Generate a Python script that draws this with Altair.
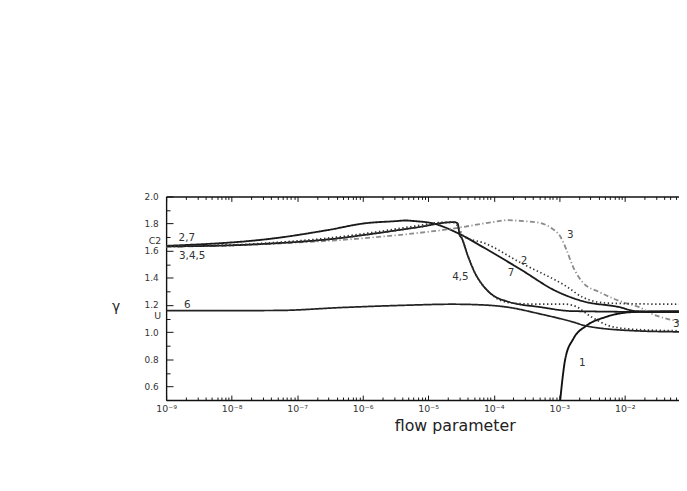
import altair as alt
import pandas as pd

# ---- curve data (flow parameter, gamma) ----
c1_x = [1.035e-3, 1.24e-3, 1.64e-3, 2.57e-3, 5.15e-3, 1.32e-2, 6.76e-2, 1e-1]
c1_y = [0.50, 0.806, 0.951, 1.046, 1.112, 1.148, 1.155, 1.155]

c2_x = [1e-9, 4.9e-8, 2.9e-7, 1.12e-6, 3.16e-6, 4.47e-6, 6.3e-6, 1.15e-5, 2.8e-5,
        7.2e-5, 2.6e-4, 9.1e-4, 2.3e-3, 8.4e-3, 1.46e-2, 6.76e-2, 1e-1]
c2_y = [1.636, 1.694, 1.752, 1.803, 1.818, 1.823, 1.818, 1.803, 1.731,
        1.621, 1.461, 1.301, 1.228, 1.184, 1.155, 1.148, 1.147]

c3_x = [1e-9, 2.45e-8, 1.58e-6, 2.51e-5, 1.02e-4, 1.58e-4, 2.88e-4, 5.25e-4, 7.59e-4,
        1.05e-3, 1.29e-3, 1.62e-3, 2.29e-3, 4.17e-3, 9.33e-3, 1.66e-2, 2.63e-2, 6.76e-2, 1e-1]
c3_y = [1.629, 1.647, 1.700, 1.765, 1.813, 1.825, 1.818, 1.803, 1.767,
        1.701, 1.607, 1.483, 1.367, 1.294, 1.221, 1.184, 1.134, 1.075, 1.05]

c4_x = [1e-9, 1e-8, 5.0e-8, 3.16e-7, 1.58e-6, 6.3e-6, 2.51e-5, 2.82e-5, 3.02e-5, 3.24e-5,
        3.98e-5, 5.13e-5, 6.47e-5, 8.26e-5, 1.02e-4, 1.58e-4, 5.25e-4, 1.62e-3, 6.76e-2, 1e-1]
c4_y = [1.632, 1.640, 1.656, 1.685, 1.728, 1.770, 1.811, 1.800, 1.716, 1.694,
        1.570, 1.440, 1.360, 1.300, 1.265, 1.228, 1.184, 1.155, 1.148, 1.148]

c5_x = [1e-9, 1e-8, 5.0e-8, 3.16e-7, 1.58e-6, 6.3e-6, 2.51e-5, 2.82e-5, 3.02e-5, 3.24e-5,
        3.98e-5, 5.13e-5, 6.47e-5, 8.26e-5, 1.02e-4, 1.26e-4, 2.04e-4, 5.0e-4, 1.26e-3, 1.78e-3,
        2.95e-3, 6.6e-3, 1.86e-2, 6.76e-2, 1e-1]
c5_y = [1.632, 1.640, 1.656, 1.685, 1.728, 1.770, 1.811, 1.800, 1.716, 1.694,
        1.570, 1.440, 1.360, 1.300, 1.262, 1.235, 1.214, 1.206, 1.206, 1.190,
        1.119, 1.039, 1.017, 1.010, 1.008]

c6_x = [1e-9, 5.0e-8, 5.0e-7, 5.0e-6, 2.29e-5, 7.94e-5, 1.58e-4, 5.25e-4, 1.62e-3,
        2.57e-3, 1.45e-2, 6.76e-2, 1e-1]
c6_y = [1.158, 1.160, 1.182, 1.199, 1.206, 1.199, 1.185, 1.133, 1.075,
        1.046, 1.010, 1.002, 1.000]

c7_x = [1e-9, 1e-8, 5.0e-8, 3.16e-7, 1.58e-6, 6.3e-6, 1.78e-5, 2.51e-5, 3.55e-5, 7.24e-5,
        2.57e-4, 1.29e-3, 2.29e-3, 5.5e-3, 6.76e-2, 1e-1]
c7_y = [1.634, 1.643, 1.662, 1.695, 1.738, 1.782, 1.810, 1.806, 1.703, 1.656,
        1.512, 1.337, 1.257, 1.214, 1.206, 1.206]

curve_names = ["1", "2", "3", "4", "5", "6", "7"]
curve_colors = ["#111111", "#1a1a1a", "#8c8c8c", "#1a1a1a", "#333333", "#222222", "#333333"]
curve_dashes = [[1, 0], [1, 0], [5, 2.5, 1.2, 2.5], [1, 0], [1.4, 2.6], [1, 0], [1.4, 2.6]]
curve_widths = [1.9, 1.7, 0.9, 1.7, 1.4, 1.0, 1.4]

# curve annotations
lbl_text = ["2,7", "3,4,5", "6", "4,5", "2", "7", "3", "1", "3"]
lbl_x = [2.07e-9, 2.5e-9, 2.1e-9, 3.1e-5, 2.9e-4, 1.84e-4, 1.48e-3, 2.24e-3, 6.1e-2]
lbl_y = [1.690, 1.563, 1.203, 1.403, 1.527, 1.439, 1.716, 0.769, 1.061]

# special levels on the gamma axis
lvl_text = ["C2", "U"]
lvl_x = [1e-9, 1e-9]
lvl_y = [1.668, 1.122]

rows = []
for name, xs, ys in zip(curve_names,
                        [c1_x, c2_x, c3_x, c4_x, c5_x, c6_x, c7_x],
                        [c1_y, c2_y, c3_y, c4_y, c5_y, c6_y, c7_y]):
    for i, (xv, yv) in enumerate(zip(xs, ys)):
        rows.append({"curve": name, "x": xv, "y": yv, "i": i})
df = pd.DataFrame(rows)
lbl_df = pd.DataFrame({"t": lbl_text, "x": lbl_x, "y": lbl_y})
lvl_df = pd.DataFrame({"t": lvl_text, "x": lvl_x, "y": lvl_y})

XMIN, XMAX = 1e-9, 0.0673
x_ticks = [m * 10.0 ** k for k in range(-9, -1) for m in range(1, 10) if m * 10.0 ** k <= XMAX * 1.0001]
y_ticks = [round(0.5 + 0.1 * k, 1) for k in range(16)]

FONT = "DejaVu Sans"
is_decade = "abs(log(datum.value)/LN10 - round(log(datum.value)/LN10)) < 0.01"
sup = "['\u207b\u2079','\u207b\u2078','\u207b\u2077','\u207b\u2076','\u207b\u2075','\u207b\u2074','\u207b\u00b3','\u207b\u00b2','\u207b\u00b9','\u2070']"
x_label_expr = f"({is_decade}) ? '10' + {sup}[round(log(datum.value)/LN10) + 9] : ''"
is_major_y = "abs(datum.value*5 - round(datum.value*5)) < 0.01"

x_scale = alt.Scale(type="log", domain=[XMIN, XMAX], nice=False)
y_scale = alt.Scale(domain=[0.5, 2.0], nice=False, zero=False)

y_axis = alt.Axis(
    values=y_ticks,
    labelExpr=f"({is_major_y} && datum.value > 0.55) ? format(datum.value, '.1f') : ''",
    tickSize={"expr": f"({is_major_y}) ? -7 : -4"},
    labelPadding=15, labelOverlap=False, grid=False,
    labelFont=FONT, labelFontSize=9, labelColor="#333333",
    domainColor="#111111", tickColor="#111111", domainWidth=1.4, tickWidth=1,
    title="\u03b3", titleAngle=0, titleX=-51, titleY=111, titleAlign="center",
    titleBaseline="middle", titleFont=FONT, titleFontSize=14, titleFontWeight="normal",
    titleColor="#222222",
)

x_axis_bottom = alt.Axis(
    values=x_ticks, labelExpr=x_label_expr,
    tickSize={"expr": f"({is_decade}) ? -5 : -3"},
    labelPadding=9, labelOverlap=False, labelFlush=False, grid=False,
    labelFont=FONT, labelFontSize=9.5, labelColor="#333333",
    domainColor="#111111", tickColor="#111111", domainWidth=1.4, tickWidth=1,
    title="flow parameter", titleX=292, titleY=26, titleAlign="center",
    titleBaseline="middle", titleFont=FONT, titleFontSize=16, titleFontWeight="normal",
    titleColor="#222222",
)

x_axis_top = alt.Axis(
    orient="top", values=x_ticks, labels=False, title=None,
    tickSize={"expr": f"({is_decade}) ? -5 : -3"},
    grid=False, domainColor="#111111", tickColor="#111111", domainWidth=1.4, tickWidth=1,
)

lines = alt.Chart(df).mark_line(clip=True, interpolate="monotone").encode(
    x=alt.X("x:Q", scale=x_scale, axis=x_axis_bottom),
    y=alt.Y("y:Q", scale=y_scale, axis=y_axis),
    color=alt.Color("curve:N", scale=alt.Scale(domain=curve_names, range=curve_colors), legend=None),
    strokeDash=alt.StrokeDash("curve:N", scale=alt.Scale(domain=curve_names, range=curve_dashes), legend=None),
    strokeWidth=alt.StrokeWidth("curve:N", scale=alt.Scale(domain=curve_names, range=curve_widths), legend=None),
    order=alt.Order("i:Q"),
)

labels = alt.Chart(lbl_df).mark_text(font=FONT, fontSize=10.5, color="#333333", align="center", baseline="middle").encode(
    x=alt.X("x:Q", scale=x_scale, axis=x_axis_top),
    y=alt.Y("y:Q", scale=y_scale, axis=y_axis),
    text="t:N",
)

levels = alt.Chart(lvl_df).mark_text(font=FONT, fontSize=9.5, color="#333333", align="right", baseline="middle", dx=-5).encode(
    x=alt.X("x:Q", scale=x_scale, axis=None),
    y=alt.Y("y:Q", scale=y_scale, axis=y_axis),
    text="t:N",
)

chart = alt.layer(lines, labels, levels).resolve_axis(x="independent").properties(
    width=519, height=206,
    autosize=alt.AutoSizeParams(type="none"),
    padding={"left": 160, "top": 188, "right": 0, "bottom": 60},
    background="white",
).configure_view(stroke=None)

chart.save("out.html", embed_options={"renderer": "svg", "actions": False})
